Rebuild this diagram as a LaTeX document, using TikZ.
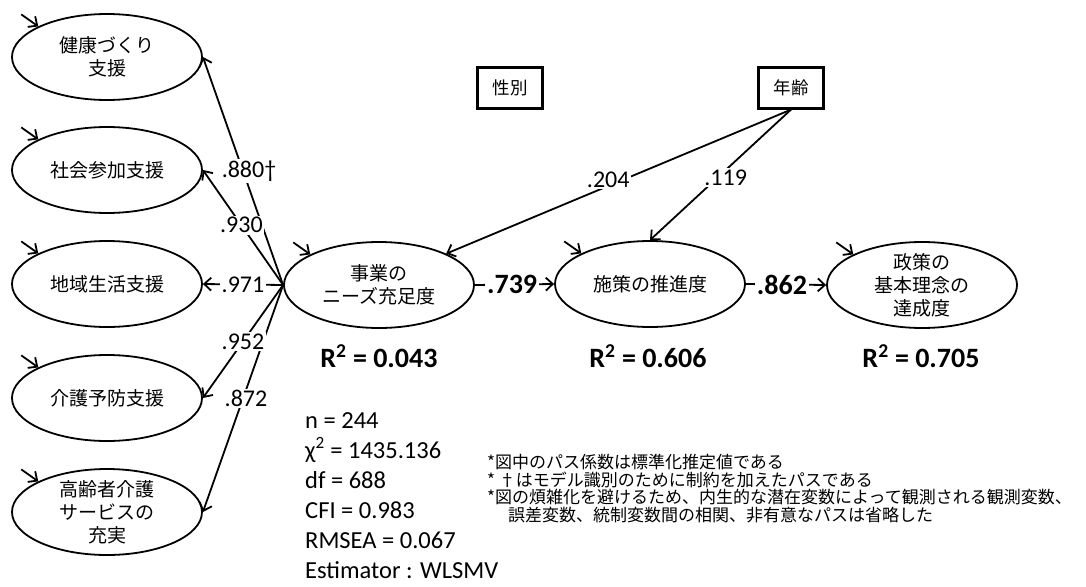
\documentclass[tikz,border=0pt]{standalone}
\usepackage{fontspec}
\setmainfont{Carlito}
\newfontfamily\jp{Noto Sans CJK JP}
\usetikzlibrary{shapes.geometric,arrows.meta}
\begin{document}
\begin{tikzpicture}[x=1pt,y=-1pt,
  lat/.style={ellipse,draw,line width=1.8pt,minimum width=190pt,minimum height=86pt,inner sep=0pt},
  jt/.style={font=\jp\fontsize{19}{23}\selectfont,align=center,inner sep=0pt},
  obs/.style={rectangle,draw,line width=2.2pt,minimum width=65pt,minimum height=41pt,font=\jp\fontsize{17.5}{20}\selectfont,inner sep=0pt},
  pth/.style={line width=1.8pt,-{Straight Barb[length=7pt,width=13pt,line width=1.8pt]}},
  coef/.style={fill=white,inner sep=1.5pt,font=\fontsize{24}{28}\selectfont},
  bcoef/.style={fill=white,inner sep=2pt,font=\bfseries\fontsize{28}{32}\selectfont},
  rsq/.style={anchor=base,inner sep=0pt,font=\bfseries\fontsize{28}{32}\selectfont},
  fit/.style={anchor=base west,inner sep=0pt,font=\fontsize{24.5}{30}\selectfont},
  note/.style={anchor=base west,inner sep=0pt,font=\jp\fontsize{17}{18}\selectfont}]
\useasboundingbox (0,0) rectangle (1086,586);
% indicators
\node[lat] (i1) at (107,57) {};
\node[jt] (i1t) at (i1) {健康づくり\\支援};
\node[lat] (i2) at (107,170) {};
\node[jt] (i2t) at (i2) {社会参加支援};
\node[lat] (i3) at (107,284) {};
\node[jt] (i3t) at (i3) {地域生活支援};
\node[lat] (i4) at (107,398) {};
\node[jt] (i4t) at (i4) {介護予防支援};
\node[lat] (i5) at (107,512) {};
\node[jt] (i5t) at (i5) {高齢者介護\\サービスの\\充実};
% latent
\node[lat] (f) at (379,285) {};
\node[jt] (ft) at (f) {事業の\\ニーズ充足度};
\node[lat] (m) at (650,284) {};
\node[jt] (mt) at (m) {施策の推進度};
\node[lat] (g) at (922,285) {};
\node[jt] (gt) at (g) {政策の\\基本理念の\\達成度};
% controls
\node[obs] (sex) at (510,88) {性別};
\node[obs] (age) at (791,88) {年齢};
% error arrows
\foreach \n in {i1,i2,i3,i4,i5,f,m,g}
  \draw[pth] (\n.156) ++(-17,-12) -- (\n.156);
% loadings
\foreach \n in {i1,i2,i3,i4,i5}
  \draw[pth] (f.west) -- (\n.east);
% structural
\draw[pth] (age.south) -- (f.25);
\draw[pth] (age.south) -- (m.north);
\draw[pth] (f.east) -- (m.west);
\draw[pth] (m.east) -- (g.west);
% labels
\path (f.west) -- (i1.east) node[coef,pos=0.5,xshift=6pt] (c1) {.880†};
\path (f.west) -- (i2.east) node[coef,pos=0.52] (c2) {.930};
\path (f.west) -- (i3.east) node[coef,pos=0.5] (c3) {.971};
\path (f.west) -- (i4.east) node[coef,pos=0.5] (c4) {.952};
\path (f.west) -- (i5.east) node[coef,pos=0.5,xshift=3pt] (c5) {.872};
\path (age.south) -- (f.25) node[coef,pos=0.53,yshift=6pt] (c6) {.204};
\path (age.south) -- (m.north) node[coef,pos=0.52,xshift=8pt] (c7) {.119};
\path (f.east) -- (m.west) node[bcoef,pos=0.47] (c8) {.739};
\path (m.east) -- (g.west) node[bcoef,pos=0.45] (c9) {.862};
% R squared
\node[rsq] (r1) at (379,367) {R\textsuperscript{2} = 0.043};
\node[rsq] (r2) at (648,367) {R\textsuperscript{2} = 0.606};
\node[rsq] (r3) at (921,367) {R\textsuperscript{2} = 0.705};
% fit
\node[fit] (s1) at (305,428) {n = 244};
\node[fit] (s2) at (305,458) {χ\textsuperscript{2} = 1435.136};
\node[fit] (s3) at (305,488) {df = 688};
\node[fit] (s4) at (305,518) {CFI = 0.983};
\node[fit] (s5) at (305,548) {RMSEA = 0.067};
\node[fit] (s6) at (305,578) {Estimator : WLSMV};
% notes
\node[note] (n1) at (487,468.5) {*図中のパス係数は標準化推定値である};
\node[note] (n2) at (487,486) {* †はモデル識別のために制約を加えたパスである};
\node[note] (n3) at (487,503.5) {*図の煩雑化を避けるため、内生的な潜在変数によって観測される観測変数、};
\node[note] (n4) at (508,521) {誤差変数、統制変数間の相関、非有意なパスは省略した};
\end{tikzpicture}
\end{document}
